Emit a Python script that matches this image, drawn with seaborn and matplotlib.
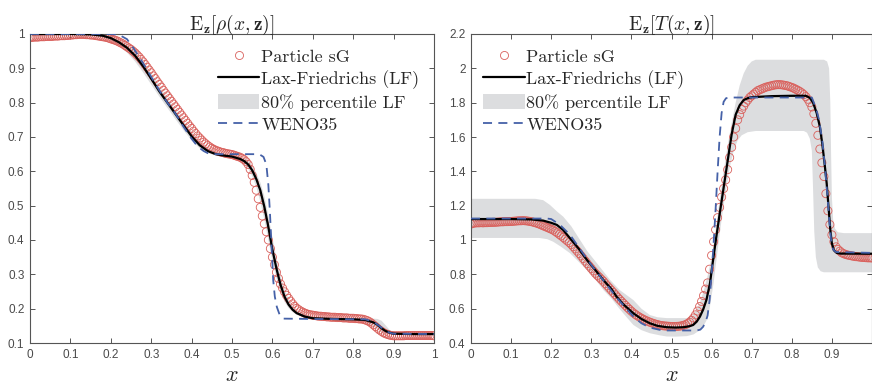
import numpy as np
import matplotlib
matplotlib.use("Agg")
import matplotlib.pyplot as plt
from matplotlib.lines import Line2D
from matplotlib.patches import Patch
from matplotlib.font_manager import FontProperties
import seaborn as sns

# ---------------- data ----------------
# Left panel: density
rho_x = [0.00, 0.05, 0.10, 0.15, 0.18, 0.20, 0.22, 0.24, 0.26, 0.28, 0.30, 0.32, 0.34, 0.36,
         0.38, 0.40, 0.42, 0.44, 0.46, 0.48, 0.50, 0.52, 0.53, 0.54, 0.55, 0.56, 0.57, 0.58,
         0.59, 0.60, 0.61, 0.62, 0.63, 0.64, 0.65, 0.66, 0.68, 0.70, 0.75, 0.80, 0.83, 0.85,
         0.86, 0.87, 0.88, 0.89, 0.90, 0.95, 1.00]
rho_lf = [1.000, 1.000, 1.000, 0.999, 0.995, 0.988, 0.976, 0.960, 0.937, 0.906, 0.870, 0.833,
          0.800, 0.767, 0.734, 0.702, 0.676, 0.659, 0.650, 0.646, 0.643, 0.636, 0.630, 0.620,
          0.603, 0.578, 0.545, 0.497, 0.438, 0.372, 0.317, 0.270, 0.235, 0.212, 0.197, 0.187,
          0.177, 0.172, 0.170, 0.169, 0.167, 0.160, 0.153, 0.143, 0.135, 0.130, 0.127, 0.126,
          0.126]
rho_lo = [0.997, 0.997, 0.997, 0.995, 0.989, 0.980, 0.965, 0.946, 0.920, 0.888, 0.853, 0.818,
          0.785, 0.752, 0.720, 0.690, 0.667, 0.653, 0.646, 0.642, 0.639, 0.630, 0.622, 0.608,
          0.586, 0.555, 0.512, 0.460, 0.400, 0.340, 0.290, 0.250, 0.220, 0.202, 0.190, 0.182,
          0.174, 0.170, 0.168, 0.166, 0.160, 0.148, 0.140, 0.132, 0.127, 0.125, 0.124, 0.124,
          0.124]
rho_hi = [1.002, 1.002, 1.002, 1.002, 0.999, 0.994, 0.984, 0.970, 0.950, 0.920, 0.885, 0.848,
          0.813, 0.780, 0.748, 0.715, 0.687, 0.667, 0.655, 0.650, 0.647, 0.642, 0.638, 0.630,
          0.617, 0.596, 0.568, 0.528, 0.472, 0.408, 0.348, 0.296, 0.256, 0.228, 0.208, 0.196,
          0.182, 0.176, 0.173, 0.172, 0.172, 0.171, 0.170, 0.165, 0.152, 0.138, 0.130, 0.128,
          0.128]
rho_weno_x = [0.00, 0.20, 0.22, 0.24, 0.256, 0.28, 0.30, 0.32, 0.34, 0.36, 0.38, 0.40, 0.41,
              0.42, 0.43, 0.44, 0.46, 0.56, 0.57, 0.578, 0.585, 0.590, 0.594, 0.598, 0.602,
              0.606, 0.611, 0.618, 0.627, 0.70, 0.83, 0.85, 0.87, 0.88, 0.89, 0.90, 1.00]
rho_weno = [1.000, 1.000, 0.998, 0.985, 0.959, 0.915, 0.875, 0.836, 0.800, 0.768, 0.730, 0.695,
            0.680, 0.668, 0.659, 0.653, 0.650, 0.650, 0.648, 0.642, 0.620, 0.560, 0.478, 0.380,
            0.283, 0.235, 0.205, 0.182, 0.171, 0.170, 0.169, 0.162, 0.145, 0.136, 0.130, 0.127,
            0.126]
rho_particle = [
    0.990, 0.990, 0.991, 0.991, 0.991, 0.992, 0.992, 0.992, 0.993, 0.993,
    0.993, 0.993, 0.994, 0.994, 0.994, 0.995, 0.995, 0.995, 0.996, 0.996,
    0.997, 0.997, 0.998, 0.998, 0.999, 0.999, 0.999, 0.999, 0.998, 0.998,
    0.997, 0.997, 0.996, 0.995, 0.994, 0.993, 0.992, 0.991, 0.990, 0.988,
    0.986, 0.984, 0.982, 0.980, 0.977, 0.974, 0.971, 0.967, 0.963, 0.959,
    0.955, 0.950, 0.945, 0.939, 0.933, 0.926, 0.919, 0.911, 0.903, 0.895,
    0.887, 0.878, 0.870, 0.861, 0.853, 0.845, 0.836, 0.828, 0.820, 0.812,
    0.804, 0.796, 0.788, 0.780, 0.772, 0.764, 0.756, 0.748, 0.740, 0.732,
    0.725, 0.717, 0.710, 0.703, 0.697, 0.691, 0.685, 0.680, 0.675, 0.671,
    0.667, 0.664, 0.661, 0.659, 0.657, 0.655, 0.654, 0.652, 0.651, 0.650,
    0.649, 0.647, 0.645, 0.643, 0.641, 0.638, 0.634, 0.628, 0.620, 0.606,
    0.588, 0.568, 0.545, 0.520, 0.495, 0.470, 0.447, 0.424, 0.400, 0.375,
    0.350, 0.328, 0.306, 0.288, 0.272, 0.260, 0.249, 0.239, 0.230, 0.222,
    0.214, 0.207, 0.201, 0.197, 0.193, 0.190, 0.187, 0.185, 0.183, 0.182,
    0.181, 0.180, 0.179, 0.178, 0.178, 0.177, 0.177, 0.176, 0.176, 0.175,
    0.175, 0.175, 0.174, 0.174, 0.174, 0.173, 0.173, 0.173, 0.172, 0.172,
    0.172, 0.171, 0.171, 0.170, 0.170, 0.169, 0.167, 0.165, 0.162, 0.158,
    0.153, 0.148, 0.143, 0.138, 0.134, 0.130, 0.127, 0.125, 0.123, 0.122,
    0.121, 0.121, 0.121, 0.121, 0.121, 0.121, 0.122, 0.122, 0.122, 0.122,
    0.122, 0.122, 0.122, 0.122, 0.122, 0.122, 0.122, 0.122, 0.122, 0.122,
    0.121]

# Right panel: temperature
T_x = [0.00, 0.10, 0.15, 0.18, 0.20, 0.214, 0.23, 0.247, 0.27, 0.289, 0.31, 0.33, 0.35, 0.363,
       0.38, 0.405, 0.425, 0.446, 0.465, 0.488, 0.51, 0.53, 0.545, 0.554, 0.563, 0.571, 0.579,
       0.587, 0.596, 0.60, 0.61, 0.62, 0.63, 0.64, 0.65, 0.66, 0.67, 0.68, 0.69, 0.70, 0.75,
       0.80, 0.835, 0.845, 0.853, 0.862, 0.87, 0.876, 0.882, 0.887, 0.892, 0.896, 0.90, 0.905,
       0.912, 0.92, 1.00]
T_lf = [1.122, 1.122, 1.120, 1.113, 1.100, 1.088, 1.058, 1.010, 0.945, 0.884, 0.825, 0.767,
        0.715, 0.670, 0.625, 0.573, 0.540, 0.515, 0.500, 0.492, 0.490, 0.492, 0.498, 0.505,
        0.525, 0.554, 0.595, 0.650, 0.748, 0.820, 0.990, 1.150, 1.305, 1.460, 1.615, 1.730,
        1.785, 1.815, 1.826, 1.832, 1.838, 1.840, 1.840, 1.828, 1.800, 1.740, 1.660, 1.560,
        1.440, 1.330, 1.180, 1.060, 0.980, 0.940, 0.925, 0.921, 0.920]
T_weno_x = [0.00, 0.19, 0.20, 0.222, 0.247, 0.28, 0.30, 0.33, 0.363, 0.38, 0.405, 0.425, 0.446,
            0.47, 0.488, 0.563, 0.572, 0.579, 0.586, 0.590, 0.595, 0.600, 0.605, 0.610, 0.615,
            0.620, 0.625, 0.630, 0.636, 0.645, 0.85, 0.86, 0.868, 0.876, 0.883, 0.888, 0.893,
            0.898, 0.903, 0.91, 1.00]
T_weno = [1.125, 1.125, 1.122, 1.088, 1.030, 0.920, 0.855, 0.765, 0.665, 0.620, 0.554, 0.515,
          0.490, 0.477, 0.473, 0.473, 0.478, 0.495, 0.530, 0.560, 0.650, 0.800, 0.980, 1.180,
          1.400, 1.600, 1.740, 1.805, 1.826, 1.830, 1.830, 1.770, 1.700, 1.580, 1.420, 1.280,
          1.130, 1.000, 0.945, 0.930, 0.925]
T_hi_x = [0.00, 0.16, 0.18, 0.197, 0.215, 0.23, 0.25, 0.272, 0.29, 0.314, 0.347, 0.37, 0.405,
          0.425, 0.446, 0.465, 0.488, 0.538, 0.552, 0.562, 0.57, 0.58, 0.59, 0.60, 0.61, 0.62,
          0.63, 0.64, 0.65, 0.66, 0.67, 0.68, 0.69, 0.70, 0.71, 0.88, 0.888, 0.893, 0.896,
          0.898, 0.90, 0.903, 0.908, 0.915, 0.93, 1.00]
T_hi = [1.240, 1.240, 1.232, 1.204, 1.165, 1.136, 1.080, 1.000, 0.935, 0.865, 0.767, 0.710,
        0.650, 0.600, 0.563, 0.550, 0.545, 0.545, 0.560, 0.593, 0.630, 0.700, 0.790, 0.900,
        1.060, 1.230, 1.400, 1.550, 1.680, 1.800, 1.900, 1.970, 2.015, 2.040, 2.050, 2.050,
        2.040, 2.000, 1.800, 1.500, 1.250, 1.120, 1.065, 1.045, 1.040, 1.040]
T_lo_x = [0.00, 0.17, 0.19, 0.205, 0.225, 0.247, 0.27, 0.289, 0.31, 0.33, 0.35, 0.37, 0.39,
          0.405, 0.425, 0.446, 0.47, 0.488, 0.51, 0.538, 0.555, 0.571, 0.58, 0.587, 0.595,
          0.605, 0.615, 0.625, 0.635, 0.645, 0.655, 0.665, 0.675, 0.69, 0.71, 0.83, 0.838,
          0.845, 0.85, 0.853, 0.856, 0.86, 0.865, 0.872, 0.88, 1.00]
T_lo = [1.012, 1.012, 1.005, 0.990, 0.960, 0.923, 0.870, 0.825, 0.770, 0.709, 0.660, 0.600,
        0.545, 0.505, 0.475, 0.457, 0.445, 0.438, 0.437, 0.440, 0.450, 0.475, 0.500, 0.530,
        0.600, 0.750, 0.940, 1.120, 1.280, 1.420, 1.520, 1.580, 1.610, 1.628, 1.635, 1.635,
        1.625, 1.590, 1.520, 1.300, 1.050, 0.900, 0.840, 0.818, 0.812, 0.812]
T_particle = [
    1.093, 1.097, 1.099, 1.100, 1.100, 1.101, 1.100, 1.101, 1.101, 1.102,
    1.102, 1.103, 1.103, 1.104, 1.105, 1.106, 1.106, 1.107, 1.107, 1.108,
    1.108, 1.109, 1.110, 1.111, 1.112, 1.112, 1.113, 1.112, 1.111, 1.109,
    1.107, 1.104, 1.101, 1.097, 1.093, 1.088, 1.083, 1.078, 1.073, 1.068,
    1.063, 1.058, 1.050, 1.042, 1.033, 1.024, 1.015, 1.005, 0.995, 0.985,
    0.974, 0.961, 0.948, 0.935, 0.921, 0.907, 0.892, 0.877, 0.862, 0.848,
    0.834, 0.820, 0.806, 0.794, 0.783, 0.771, 0.760, 0.746, 0.733, 0.720,
    0.707, 0.694, 0.681, 0.668, 0.655, 0.643, 0.631, 0.619, 0.607, 0.596,
    0.585, 0.575, 0.566, 0.558, 0.551, 0.544, 0.538, 0.532, 0.527, 0.522,
    0.518, 0.514, 0.510, 0.507, 0.504, 0.502, 0.500, 0.499, 0.498, 0.497,
    0.496, 0.496, 0.496, 0.497, 0.498, 0.500, 0.503, 0.507, 0.513, 0.521,
    0.532, 0.546, 0.564, 0.586, 0.612, 0.642, 0.676, 0.714, 0.750, 0.830,
    0.910, 0.990, 1.060, 1.130, 1.190, 1.250, 1.300, 1.350, 1.410, 1.480,
    1.540, 1.600, 1.650, 1.700, 1.730, 1.760, 1.780, 1.800, 1.815, 1.830,
    1.840, 1.850, 1.860, 1.870, 1.875, 1.880, 1.885, 1.890, 1.893, 1.896,
    1.899, 1.902, 1.904, 1.905, 1.905, 1.904, 1.902, 1.900, 1.897, 1.893,
    1.889, 1.884, 1.878, 1.872, 1.865, 1.857, 1.847, 1.835, 1.820, 1.800,
    1.775, 1.735, 1.680, 1.610, 1.530, 1.450, 1.370, 1.270, 1.170, 1.090,
    1.030, 0.990, 0.960, 0.945, 0.935, 0.925, 0.920, 0.915, 0.912, 0.910,
    0.907, 0.905, 0.903, 0.902, 0.900, 0.899, 0.898, 0.897, 0.896, 0.896,
    0.895]

particle_x = np.linspace(0.0, 1.0, 201)

rho_yticks = [0.1, 0.2, 0.3, 0.4, 0.5, 0.6, 0.7, 0.8, 0.9, 1.0]
rho_yticklabels = ['0.1', '0.2', '0.3', '0.4', '0.5', '0.6', '0.7', '0.8', '0.9', '1']
rho_xticks = [0, 0.1, 0.2, 0.3, 0.4, 0.5, 0.6, 0.7, 0.8, 0.9, 1.0]
rho_xticklabels = ['0', '0.1', '0.2', '0.3', '0.4', '0.5', '0.6', '0.7', '0.8', '0.9', '1']
T_yticks = [0.4, 0.6, 0.8, 1.0, 1.2, 1.4, 1.6, 1.8, 2.0, 2.2]
T_yticklabels = ['0.4', '0.6', '0.8', '1', '1.2', '1.4', '1.6', '1.8', '2', '2.2']
T_xticks = [0, 0.1, 0.2, 0.3, 0.4, 0.5, 0.6, 0.7, 0.8, 0.9]
T_xticklabels = ['0', '0.1', '0.2', '0.3', '0.4', '0.5', '0.6', '0.7', '0.8', '0.9']

labels = ['Particle sG', 'Lax-Friedrichs (LF)', '80% percentile LF', 'WENO35']
titles = [r'$\mathrm{E}_{\mathbf{z}}[\rho(x,\mathbf{z})]$',
          r'$\mathrm{E}_{\mathbf{z}}[T(x,\mathbf{z})]$']

# ---------------- style ----------------
sns.set_theme(style='white')
plt.rcParams['font.family'] = ['Liberation Sans', 'DejaVu Sans']
plt.rcParams['mathtext.fontset'] = 'cm'

RED = '#d9605c'
BAND = '#dcdddf'
BLUE = '#4561a8'
AXC = '#555555'
TICKC = '#4a4a4a'

fig = plt.figure(figsize=(8.72, 3.88), dpi=100)
ax1 = fig.add_axes([30 / 872, 1 - 343 / 388, 404 / 872, 309 / 388])
ax2 = fig.add_axes([471 / 872, 1 - 343 / 388, 401 / 872, 309 / 388])

legend_font = FontProperties(family='cmr10', size=13)


def draw(ax, hx, hy, lx_, ly_, cx, cy, wx, wy, py):
    # percentile band as a polygon: upper edge forward, lower edge backward
    ax.fill(list(hx) + list(lx_)[::-1], list(hy) + list(ly_)[::-1],
            color=BAND, lw=0, zorder=1)
    sns.scatterplot(x=particle_x, y=py, ax=ax, marker='o', s=34, legend=False, zorder=2)
    pts = ax.collections[-1]
    pts.set_facecolor('none')
    pts.set_edgecolor(RED)
    pts.set_linewidth(0.6)
    sns.lineplot(x=cx, y=cy, ax=ax, color='black', lw=1.6, sort=False,
                 estimator=None, legend=False, zorder=3)
    sns.lineplot(x=wx, y=wy, ax=ax, color=BLUE, lw=1.3, sort=False,
                 estimator=None, legend=False, zorder=4, linestyle=(0, (5, 3.5)))


draw(ax1, rho_x, rho_hi, rho_x, rho_lo, rho_x, rho_lf, rho_weno_x, rho_weno, rho_particle)
ax1.set_xlim(0, 1)
ax1.set_ylim(0.1, 1.0)
ax1.set_xticks(rho_xticks)
ax1.set_xticklabels(rho_xticklabels)
ax1.set_yticks(rho_yticks)
ax1.set_yticklabels(rho_yticklabels)

draw(ax2, T_hi_x, T_hi, T_lo_x, T_lo, T_x, T_lf, T_weno_x, T_weno, T_particle)
ax2.set_xlim(0, 1)
ax2.set_ylim(0.4, 2.2)
ax2.set_xticks(T_xticks)
ax2.set_xticklabels(T_xticklabels)
ax2.set_yticks(T_yticks)
ax2.set_yticklabels(T_yticklabels)

for ax, title in zip([ax1, ax2], titles):
    for s in ax.spines.values():
        s.set_visible(True)
        s.set_color(AXC)
        s.set_linewidth(0.8)
    ax.tick_params(direction='in', length=3.5, width=0.7, color=AXC, labelcolor=TICKC,
                   labelsize=8.5, top=True, right=True, bottom=True, left=True, pad=4)
    ax.set_title(title, fontsize=14, pad=3)
    ax.set_xlabel(r'$x$', fontsize=16, va='baseline')
    ax.xaxis.set_label_coords(0.5, -0.122)
    ax.set_ylabel('')
    ax.grid(False)

handles = [
    Line2D([], [], marker='o', ls='none', mfc='none', mec=RED, mew=0.6, ms=5.8),
    Line2D([], [], color='black', lw=1.6),
    Patch(facecolor=BAND, edgecolor='none'),
    Line2D([], [], color=BLUE, lw=1.3, ls=(0, (5, 3.5))),
]
leg_kw = dict(frameon=False, prop=legend_font, handlelength=2.3, handleheight=0.9,
              handletextpad=0.1, labelspacing=0.3, borderaxespad=0, borderpad=0)
ax1.legend(handles, labels, loc='upper left', bbox_to_anchor=(0.465, 0.955), **leg_kw)
ax2.legend(handles, labels, loc='upper left', bbox_to_anchor=(0.03, 0.955), **leg_kw)

fig.savefig('out.png', dpi=100)
